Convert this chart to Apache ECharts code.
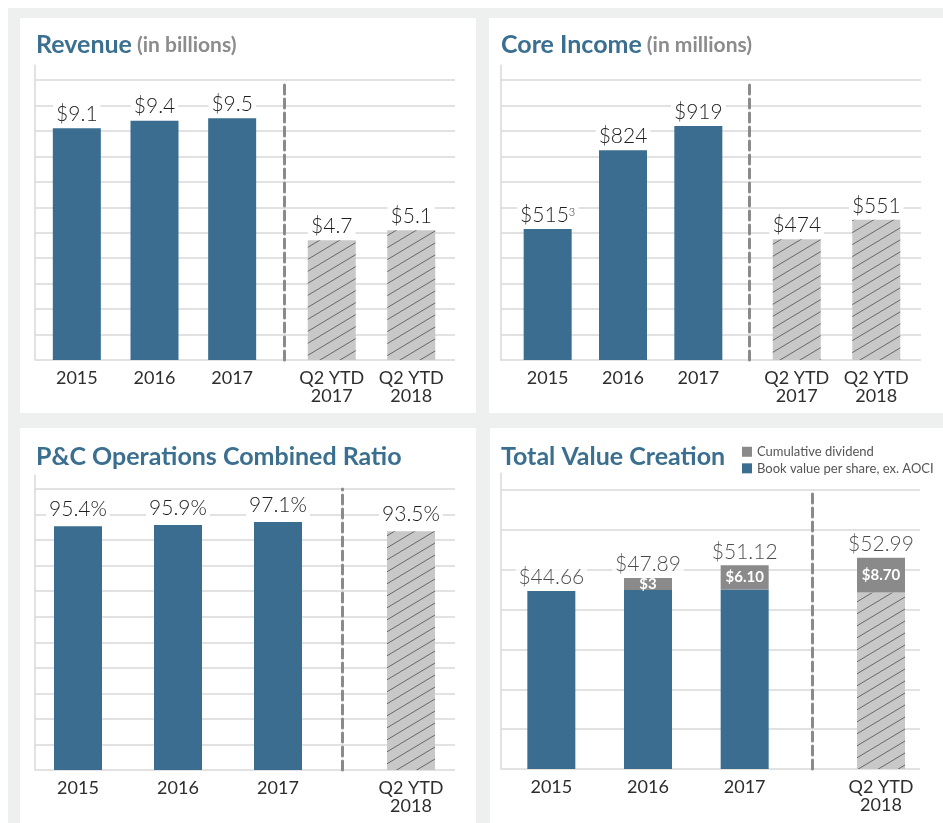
<!DOCTYPE html>
<title>highlights</title>
<style>
body {margin: 0; background: #fff;}
#frame {position: absolute; left: 8px; top: 8px; width: 935px; height: 815px; background: #eef0ef;}
.card {position: absolute; background: #fff;}
#echart {position: absolute; left: 0; top: 0; width: 943px; height: 823px;}
</style>
<div id='frame'></div>
<div class='card' style='left:20px;top:18px;width:456px;height:395px'></div>
<div class='card' style='left:489px;top:18px;width:454px;height:395px'></div>
<div class='card' style='left:20px;top:428px;width:456px;height:395px'></div>
<div class='card' style='left:490px;top:428px;width:453px;height:395px'></div>
<div id='echart'></div>
<script src='https://cdn.jsdelivr.net/npm/echarts@6.0.0/dist/echarts.min.js'></script>
<script>
let years = ['2015', '2016', '2017']
let ytdBoth = ['Q2 YTD\n2017', 'Q2 YTD\n2018']
let ytd2018 = ['Q2 YTD\n2018']

let revenue = [9.1, 9.4, 9.5]
let revenueYtd = [4.7, 5.1]
let coreIncome = [515, 824, 919]
let coreIncomeYtd = [474, 551]
let coreIncomeNotes = ['3', '', '']
let combinedRatio = [95.4, 95.9, 97.1]
let combinedRatioYtd = [93.5]
let bookValue = [44.66, 44.89, 45.02]
let bookValueYtd = [44.29]
let dividend = [0, 3, 6.10]
let dividendYtd = [8.70]
let dividendText = ['', '$3', '$6.10']
let dividendYtdText = ['$8.70']
let totalValue = [44.66, 47.89, 51.12]
let totalValueYtd = [52.99]

let blue = '#3a6d8f', titleBlue = '#3b6f90', gray = '#8a8a8a', gridGray = '#d9d9d9', ink = '#2e2e2e', font = 'Lato'

// diagonal hatch used for the year-to-date bars
function hatch() {
	let c = document.createElement('canvas')
	c.width = 20; c.height = 12
	let g = c.getContext('2d')
	g.fillStyle = '#c8c8c9'; g.fillRect(0, 0, 20, 12)
	g.strokeStyle = '#666'; g.lineWidth = 1
	for (let k of [-1, 0, 1]) {g.beginPath(); g.moveTo(0, 12 + 12 * k); g.lineTo(20, 12 * k); g.stroke()}
	return c
}
let hatched = {image: hatch(), repeat: 'repeat'}

let valueLabel = {show: true, position: 'top', distance: 3, color: '#1e1e1e', fontSize: 21, lineHeight: 22, fontWeight: 300, fontFamily: font, backgroundColor: '#fff', padding: [0, 3]}
let catLabel = {color: ink, fontSize: 18, lineHeight: 18, margin: 9, fontFamily: font, interval: 0}

let grid = [], xAxis = [], yAxis = [], series = []

function panel(p) {
	let g = grid.length
	grid.push({left: p.x0, width: p.x1 - p.x0, top: p.axisTop, height: p.base - p.axisTop})
	grid.push({left: p.left[0], width: p.left[1], top: p.top, height: p.base - p.top})
	grid.push({left: p.right[0], width: p.right[1], top: p.top, height: p.base - p.top})
	let ext = p.max * (p.top - p.axisTop) / (p.base - p.top)
	xAxis.push({gridIndex: g, type: 'value', show: false})
	yAxis.push({gridIndex: g, type: 'value', min: 0, max: p.max + ext, interval: p.interval,
		axisLabel: {show: false}, axisTick: {show: false},
		axisLine: {show: true, lineStyle: {color: gridGray, width: 1.5}},
		splitLine: {show: true, showMaxLine: false, lineStyle: {color: gridGray, width: 1.5}}})
	for (let [i, cats] of [[1, p.cats], [2, p.ytdCats]]) {
		xAxis.push({gridIndex: g + i, type: 'category', data: cats, axisLine: {show: false}, axisTick: {show: false}, axisLabel: catLabel})
	}
	yAxis.push({gridIndex: g + 1, type: 'value', min: 0, max: p.max, show: false})
	yAxis.push({gridIndex: g + 2, type: 'value', min: 0, max: p.max, offset: p.right[0] - p.dash,
		axisLabel: {show: false}, axisTick: {show: false}, splitLine: {show: false},
		axisLine: {show: true, lineStyle: {color: gray, width: 3, type: [9, 5]}}})
	return g
}

function bars(g, data, color, label, extra) {
	series.push(Object.assign({type: 'bar', xAxisIndex: g, yAxisIndex: g, data: data, barWidth: 48,
		itemStyle: {color: color}, label: label}, extra || {}))
}

// Revenue
let g1 = panel({x0: 35, x1: 455, axisTop: 65, top: 80, base: 360, left: [38, 233], right: [292, 159], dash: 284, max: 11, interval: 1, cats: years, ytdCats: ytdBoth})
bars(g1 + 1, revenue, blue, Object.assign({}, valueLabel, {formatter: p => '$' + p.value.toFixed(1)}))
bars(g1 + 2, revenueYtd, hatched, Object.assign({}, valueLabel, {formatter: p => '$' + p.value.toFixed(1)}))

// Core income
let g2 = panel({x0: 501, x1: 921, axisTop: 65, top: 80, base: 360, left: [510, 226], right: [757, 159], dash: 749, max: 1100, interval: 100, cats: years, ytdCats: ytdBoth})
bars(g2 + 1, coreIncome, blue, Object.assign({}, valueLabel, {
	formatter: p => '$' + p.value + (coreIncomeNotes[p.dataIndex] ? '{sup|' + coreIncomeNotes[p.dataIndex] + '}' : ''),
	rich: {sup: {fontSize: 11, color: '#1e1e1e', fontFamily: font, verticalAlign: 'top', lineHeight: 12}}}))
bars(g2 + 2, coreIncomeYtd, hatched, Object.assign({}, valueLabel, {formatter: p => '$' + p.value}))

// Combined ratio
let g3 = panel({x0: 35, x1: 455, axisTop: 475, top: 489, base: 770, left: [28, 300], right: [367, 88], dash: 342, max: 110, interval: 10, cats: years, ytdCats: ytd2018})
bars(g3 + 1, combinedRatio, blue, Object.assign({}, valueLabel, {distance: 6, formatter: p => p.value.toFixed(1) + '%'}))
bars(g3 + 2, combinedRatioYtd, hatched, Object.assign({}, valueLabel, {distance: 6, formatter: p => p.value.toFixed(1) + '%'}))

// Total value creation
let g4 = panel({x0: 501, x1: 920, axisTop: 473, top: 490, base: 769, left: [503, 290], right: [842, 78], dash: 812, max: 70, interval: 10, cats: years, ytdCats: ytd2018})
let divLabel = {show: true, position: 'inside', color: '#fff', fontSize: 15, fontWeight: 'bold', fontFamily: font}
let bvName = 'Book value per share, ex. AOCI', divName = 'Cumulative dividend'
bars(g4 + 1, bookValue, blue, {show: false}, {name: bvName, stack: 'a'})
bars(g4 + 1, dividend, gray, Object.assign({}, divLabel, {formatter: p => dividendText[p.dataIndex]}), {name: divName, stack: 'a'})
bars(g4 + 2, bookValueYtd, hatched, {show: false}, {name: bvName, stack: 'b'})
bars(g4 + 2, dividendYtd, gray, Object.assign({}, divLabel, {formatter: p => dividendYtdText[p.dataIndex]}), {name: divName, stack: 'b'})
for (let [i, data] of [[1, totalValue], [2, totalValueYtd]]) {
	series.push({type: 'scatter', xAxisIndex: g4 + i, yAxisIndex: g4 + i, data: data, symbolSize: 1, itemStyle: {color: 'transparent'},
		label: Object.assign({}, valueLabel, {distance: 2, formatter: p => '$' + p.value.toFixed(2)})})
}

function title(left, top, main, sub) {
	return {left: left, top: top, padding: 0, text: '{a|' + main + '}' + (sub ? ' {b|' + sub + '}' : ''),
		textStyle: {rich: {
			a: {fontSize: 25, fontWeight: 'bold', color: titleBlue, fontFamily: font},
			b: {fontSize: 21, fontWeight: 'bold', color: '#8c8c8c', fontFamily: font}}}}
}

let echart = echarts.init(document.querySelector('#echart'))
echart.setOption({
	animation: false,
	title: [
		title(36, 26, 'Revenue', '(in billions)'),
		title(501, 26, 'Core Income', '(in millions)'),
		title(36, 438, 'P&C Operations Combined Ratio'),
		title(501, 438, 'Total Value Creation'),
	],
	legend: {data: [divName, bvName], orient: 'vertical', left: 742, top: 442, padding: 0, itemWidth: 10, itemHeight: 10, itemGap: -3, icon: 'rect',
		textStyle: {fontSize: 13, color: '#555', fontFamily: font}},
	grid: grid,
	xAxis: xAxis,
	yAxis: yAxis,
	series: series,
})
addEventListener('resize', function () {echart.resize()})
</script>
